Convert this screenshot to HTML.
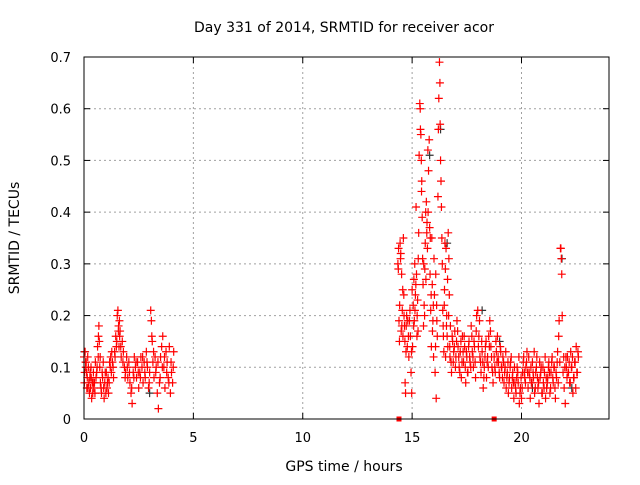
<!DOCTYPE html>
<html><head><meta charset="utf-8"><style>
html,body{margin:0;padding:0;background:#fff;}
svg text{font-family:"DejaVu Sans","Liberation Sans",sans-serif;fill:#000;}
</style></head><body>
<svg id="chart" width="640" height="480" xmlns="http://www.w3.org/2000/svg">
<rect width="640" height="480" fill="#fff"/>
<g id="grid"></g>
<g id="ticks"></g>
<g id="black"></g>
<g id="red"></g>
<rect x="84" y="57" width="525" height="362" fill="none" stroke="#000" stroke-width="1"/>
<text x="344" y="32" font-size="14" text-anchor="middle">Day 331 of 2014, SRMTID for receiver acor</text>
<text x="344" y="471" font-size="14" text-anchor="middle">GPS time / hours</text>
<text transform="translate(19,238) rotate(-90)" font-size="14" text-anchor="middle">SRMTID / TECUs</text>
</svg>
<script>
const xTicks=[0,5,10,15,20];
const yTicks=[0,0.1,0.2,0.3,0.4,0.5,0.6,0.7];
const yTickLabels=["0","0.1","0.2","0.3","0.4","0.5","0.6","0.7"];
const hoursA=[0,0.02,0.05,0.08,0.1,0.12,0.15,0.18,0.2,0.22,0.25,0.28,0.3,0.33,0.35,0.38,0.4,0.43,0.45,0.48,0.5,0.55,0.6,0.62,0.65,0.68,0.7,0.72,0.75,0.78,0.8,0.85,0.9,0.92,0.95,1.0,1.02,1.05,1.1,1.12,1.15,1.2,1.22,1.25,1.3,1.35,1.4,1.45,1.5,1.52,1.55,1.58,1.6,1.62,1.65,1.7,1.75,1.8,1.85,1.9,1.95,2.0,2.05,2.1,2.15,2.2,2.25,2.3,2.35,2.4,2.45,2.5,2.55,2.6,2.65,2.7,2.75,2.8,2.85,2.9,2.95,3.0,3.05,3.08,3.1,3.12,3.15,3.2,3.25,3.3,3.35,3.4,3.45,3.5,3.55,3.6,3.65,3.7,3.75,3.8,3.85,3.9,3.95,4.0,4.05,4.1];
const tecA=[0.12,0.07,0.13,0.10,0.11,0.09,0.08,0.06,0.10,0.07,0.05,0.09,0.06,0.08,0.04,0.07,0.05,0.09,0.06,0.07,0.05,0.08,0.10,0.14,0.12,0.18,0.15,0.10,0.07,0.06,0.05,0.08,0.06,0.04,0.07,0.05,0.09,0.06,0.08,0.05,0.07,0.10,0.12,0.09,0.11,0.08,0.13,0.16,0.15,0.20,0.21,0.18,0.14,0.19,0.17,0.12,0.15,0.13,0.10,0.09,0.12,0.08,0.11,0.07,0.05,0.03,0.09,0.12,0.10,0.08,0.11,0.06,0.09,0.12,0.10,0.07,0.11,0.08,0.13,0.10,0.06,0.09,0.21,0.19,0.16,0.15,0.11,0.08,0.12,0.10,0.05,0.02,0.07,0.12,0.14,0.16,0.10,0.06,0.13,0.11,0.08,0.14,0.05,0.09,0.07,0.13];
const hoursB=[14.35,14.38,14.4,14.42,14.45,14.48,14.5,14.52,14.55,14.58,14.6,14.62,14.65,14.68,14.7,14.72,14.75,14.78,14.8,14.85,14.9,14.92,14.95,14.98,15.0,15.02,15.05,15.08,15.1,15.12,15.15,15.18,15.2,15.22,15.25,15.28,15.3,15.32,15.35,15.37,15.38,15.4,15.42,15.44,15.46,15.48,15.5,15.52,15.55,15.58,15.6,15.62,15.65,15.68,15.7,15.72,15.75,15.78,15.8,15.82,15.85,15.88,15.9,15.92,15.95,15.98,16.0,16.02,16.05,16.08,16.1,16.12,16.15,16.18,16.2,16.22,16.25,16.27,16.28,16.3,16.32,16.34,16.36,16.38,16.4,16.42,16.45,16.48,16.5,16.52,16.55,16.58,16.6,16.62,16.65,16.68,16.7,16.72,16.75,16.78,16.8,16.85,16.9,16.95,17.0,17.05,17.1,17.15,17.2,17.25,17.3,17.35,17.4,17.45,17.5,17.55,17.6,17.65,17.7,17.75,17.8,17.85,17.9,17.95,18.0,18.05,18.1,18.15,18.2,18.25,18.3,18.35,18.4,18.45,18.5,18.55,18.6,18.65,18.7,18.75,18.8,18.85,18.9,18.95,19.0,19.05,19.1,19.15,19.2,19.25,19.3,19.35,19.4,19.45,19.5,19.55,19.6,19.65,19.7,19.75,19.8,19.85,19.9,19.95,20.0,20.05,20.1,20.15,20.2,20.25,20.3,20.35,20.4,20.45,20.5,20.55,20.6,20.65,20.7,20.75,20.8,20.85,20.9,20.95,21.0,21.05,21.1,21.15,21.2,21.25,21.3,21.35,21.4,21.45,21.5,21.55,21.6,21.65,21.7,21.72,21.75,21.78,21.8,21.82,21.84,21.86,21.9,21.95,22.0,22.05,22.1,22.15,22.2,22.25,22.3,22.35,22.4,22.45,22.5,22.55,22.6];
const tecB=[0.30,0.33,0.19,0.15,0.34,0.32,0.17,0.28,0.21,0.16,0.35,0.24,0.18,0.07,0.05,0.13,0.20,0.14,0.19,0.12,0.21,0.16,0.09,0.05,0.25,0.14,0.22,0.27,0.19,0.30,0.24,0.41,0.28,0.16,0.23,0.31,0.36,0.51,0.61,0.60,0.56,0.55,0.50,0.46,0.39,0.31,0.26,0.18,0.22,0.29,0.34,0.40,0.42,0.38,0.33,0.52,0.48,0.54,0.37,0.28,0.21,0.14,0.35,0.26,0.19,0.12,0.31,0.24,0.09,0.28,0.04,0.22,0.16,0.43,0.56,0.62,0.69,0.65,0.57,0.50,0.46,0.41,0.35,0.30,0.21,0.18,0.13,0.25,0.34,0.29,0.33,0.20,0.16,0.27,0.36,0.31,0.24,0.14,0.18,0.11,0.09,0.15,0.13,0.17,0.12,0.19,0.14,0.10,0.13,0.08,0.16,0.11,0.14,0.07,0.12,0.09,0.15,0.11,0.18,0.13,0.10,0.14,0.08,0.20,0.21,0.16,0.12,0.09,0.13,0.06,0.10,0.14,0.08,0.12,0.16,0.19,0.14,0.10,0.07,0.12,0.09,0.13,0.16,0.11,0.08,0.13,0.10,0.12,0.07,0.10,0.06,0.09,0.05,0.08,0.11,0.06,0.09,0.04,0.07,0.05,0.10,0.07,0.03,0.06,0.04,0.09,0.12,0.08,0.10,0.13,0.06,0.09,0.04,0.07,0.11,0.08,0.05,0.09,0.12,0.06,0.03,0.08,0.10,0.05,0.07,0.09,0.04,0.06,0.08,0.11,0.05,0.09,0.12,0.07,0.10,0.04,0.08,0.13,0.16,0.19,0.11,0.33,0.33,0.31,0.28,0.20,0.09,0.06,0.03,0.10,0.12,0.09,0.07,0.13,0.10,0.05,0.08,0.11,0.14,0.09,0.12];
const hoursC=[0.03,0.07,0.13,0.17,0.27,0.32,0.42,0.52,0.58,0.66,0.74,0.83,0.88,0.97,1.07,1.17,1.27,1.33,1.42,1.48,1.57,1.63,1.68,1.78,1.88,1.98,2.08,2.18,2.28,2.38,2.48,2.58,2.68,2.78,2.88,2.98,3.18,3.28,3.38,3.48,3.58,3.68,3.78,3.88,3.98,4.08,
14.37,14.43,14.47,14.53,14.57,14.63,14.67,14.73,14.83,14.88,14.97,15.07,15.13,15.17,15.23,15.27,15.43,15.53,15.57,15.63,15.67,15.73,15.83,15.87,15.93,15.97,16.07,16.13,16.43,16.47,16.53,16.57,16.63,16.67,16.73,16.83,16.88,16.93,16.98,17.03,17.08,17.13,17.18,17.23,17.28,17.33,17.38,17.43,17.48,17.53,17.58,17.63,17.68,17.73,17.78,17.83,17.88,17.93,18.03,18.08,18.13,18.18,18.23,18.28,18.33,18.38,18.43,18.48,18.53,18.58,18.63,18.68,18.78,18.83,18.88,18.93,18.98,19.03,19.08,19.13,19.18,19.23,19.28,19.33,19.38,19.43,19.48,19.53,19.58,19.63,19.68,19.73,19.78,19.83,19.88,19.93,19.98,20.03,20.08,20.13,20.18,20.23,20.28,20.33,20.38,20.43,20.48,20.53,20.58,20.63,20.68,20.73,20.78,20.83,20.88,20.93,20.98,21.03,21.08,21.13,21.18,21.23,21.28,21.33,21.38,21.43,21.48,21.53,21.58,21.63,21.68,21.93,21.98,22.03,22.08,22.13,22.18,22.23,22.28,22.33,22.38,22.43,22.48,22.53,22.58];
const tecC=[0.09,0.11,0.06,0.12,0.08,0.10,0.07,0.11,0.09,0.16,0.12,0.09,0.11,0.09,0.07,0.11,0.13,0.10,0.12,0.14,0.17,0.16,0.14,0.11,0.08,0.10,0.09,0.06,0.08,0.11,0.09,0.08,0.12,0.09,0.11,0.07,0.13,0.09,0.11,0.08,0.10,0.12,0.09,0.07,0.11,0.10,
0.29,0.22,0.31,0.18,0.25,0.20,0.15,0.18,0.16,0.19,0.13,0.18,0.21,0.26,0.20,0.17,0.44,0.30,0.20,0.27,0.36,0.40,0.35,0.24,0.17,0.22,0.14,0.19,0.16,0.22,0.12,0.18,0.14,0.20,0.12,0.16,0.11,0.14,0.10,0.15,0.17,0.12,0.09,0.15,0.11,0.13,0.16,0.10,0.13,0.09,0.14,0.12,0.10,0.16,0.12,0.15,0.11,0.17,0.14,0.19,0.11,0.15,0.11,0.08,0.12,0.15,0.11,0.10,0.14,0.17,0.12,0.09,0.10,0.15,0.11,0.12,0.09,0.14,0.10,0.08,0.11,0.09,0.13,0.08,0.11,0.07,0.10,0.12,0.08,0.07,0.10,0.06,0.08,0.09,0.12,0.05,0.08,0.06,0.11,0.09,0.07,0.11,0.09,0.12,0.08,0.10,0.07,0.09,0.13,0.06,0.10,0.08,0.07,0.11,0.09,0.05,0.10,0.06,0.12,0.08,0.07,0.10,0.09,0.06,0.11,0.08,0.10,0.06,0.09,0.11,0.07,0.12,0.10,0.12,0.08,0.09,0.11,0.07,0.10,0.12,0.08,0.11,0.06,0.09,0.13,0.10,0.08,0.11];
const hoursBlack=[0.02,3.0,15.8,16.3,16.6,18.2,19.0,20.5,21.85,22.3];
const tecBlack=[0.13,0.05,0.51,0.56,0.34,0.21,0.15,0.06,0.31,0.06];
const gapHours=[14.4,18.75];

const NS="http://www.w3.org/2000/svg";
const L=84,R=609,T=57,B=419,XMAX=24,YMAX=0.7;
function xs(h){return L+h/XMAX*(R-L);}
function ys(v){return B-v/YMAX*(B-T);}
function mk(tag,attrs,parent){const e=document.createElementNS(NS,tag);for(const k in attrs)e.setAttribute(k,attrs[k]);parent.appendChild(e);return e;}
const grid=document.getElementById('grid'),ticks=document.getElementById('ticks');
xTicks.forEach(t=>{
  const x=xs(t);
  if(t>0){const g=mk('line',{x1:x,y1:T,x2:x,y2:B,stroke:'#a0a0a0','stroke-dasharray':'2,3'},grid);
  
  }
  mk('line',{x1:x,y1:B,x2:x,y2:B-6,stroke:'#000'},ticks);
  mk('line',{x1:x,y1:T,x2:x,y2:T+6,stroke:'#000'},ticks);
  const tx=mk('text',{x:x,y:442,'font-size':'13','text-anchor':'middle'},ticks);
  tx.textContent=String(t);
  
  
});
yTicks.forEach((t,i)=>{
  const y=ys(t);
  if(i>0&&i<yTicks.length-1){const g=mk('line',{x1:L,y1:y,x2:R,y2:y,stroke:'#a0a0a0','stroke-dasharray':'2,3'},grid);
  
  }
  mk('line',{x1:L,y1:y,x2:L+6,y2:y,stroke:'#000'},ticks);
  mk('line',{x1:R,y1:y,x2:R-6,y2:y,stroke:'#000'},ticks);
  const tx=mk('text',{x:71,y:y+5,'font-size':'13','text-anchor':'end'},ticks);
  tx.textContent=yTickLabels[i];
  
  
});
function plus(h,v,color,parent){
  const x=xs(h),y=ys(v);
  const p=mk('path',{d:`M${x-4},${y}H${x+4}M${x},${y-4}V${y+4}`,stroke:color,'stroke-width':'1.2',fill:'none'},parent);
  
  
}
const gb=document.getElementById('black'),gr=document.getElementById('red');
hoursBlack.forEach((h,i)=>plus(h,tecBlack[i],'#333',gb));
hoursA.forEach((h,i)=>plus(h,tecA[i],'#ff0000',gr));
hoursB.forEach((h,i)=>plus(h,tecB[i],'#ff0000',gr));
hoursC.forEach((h,i)=>plus(h,tecC[i],'#ff0000',gr));
gapHours.forEach(h=>{
  const r=mk('rect',{x:xs(h)-2.5,y:B-2.5,width:5,height:5,fill:'#ff0000'},gr);
  
  
});
</script>
</body></html>
